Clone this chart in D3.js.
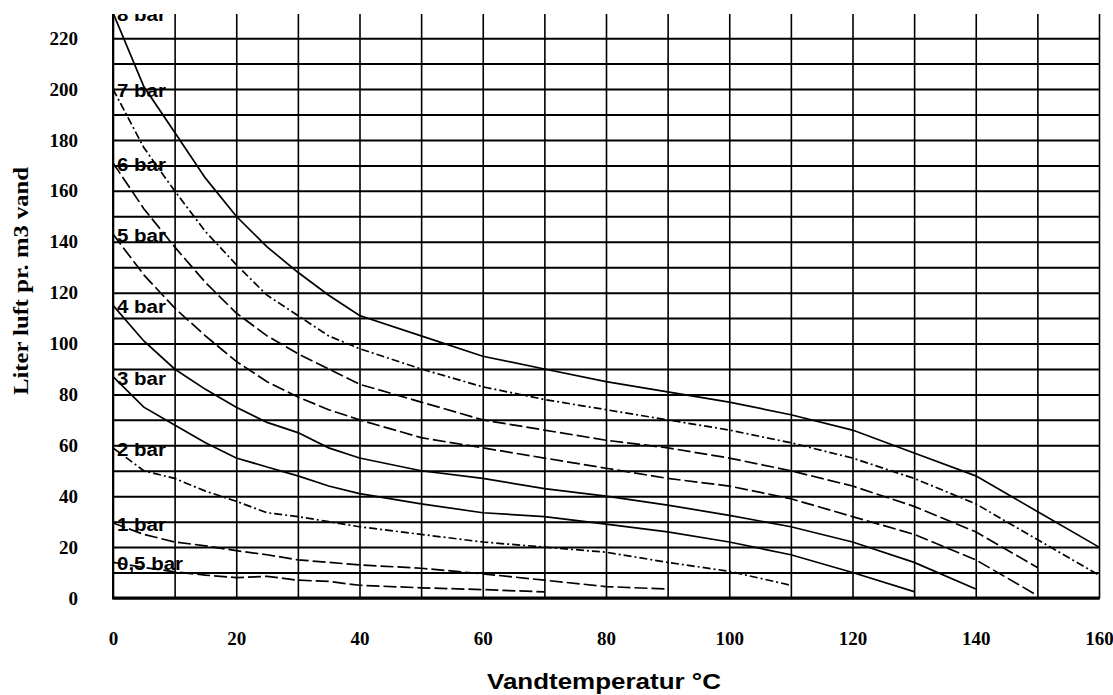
<!DOCTYPE html>
<html>
<head>
<meta charset="utf-8">
<script src="https://cdn.jsdelivr.net/npm/d3@7"></script>
<style>
  body { margin: 0; background: #fff; }
  .serif { font-family: "Liberation Serif", "Times New Roman", serif; font-weight: bold; }
  .sans { font-family: "Liberation Sans", Arial, sans-serif; font-weight: bold; }
</style>
</head>
<body>
<script>
// water temperature (°C) at which the curves were read
var temps = [0, 5, 10, 15, 20, 25, 30, 35, 40, 50, 60, 70, 80, 90, 100, 110, 120, 130, 140, 150, 160];

// litres of air per m3 water, one array per pressure (ends where the curve ends)
var bar8  = [230, 201, 183, 165, 150, 138, 128, 119, 111, 103, 95, 90, 85, 81, 77, 72, 66, 57, 48, 34, 20];
var bar7  = [200, 177, 160, 144, 131, 119, 111, 103, 98, 90, 83, 78, 74, 70, 66, 61, 55, 47, 37, 23, 9];
var bar6  = [171, 153, 138, 124, 112, 103, 96, 90, 84, 77, 70, 66, 62, 59, 55, 50, 44, 36, 26, 12];
var bar5  = [143, 127, 114, 103, 93, 85, 79, 74, 70, 63, 59, 55, 51, 47, 44, 39, 32, 25, 15, 1];
var bar4  = [115, 101, 90, 82, 75, 69, 65, 59, 55, 50, 47, 43, 40, 36.5, 32.5, 28, 22, 14, 3.5];
var bar3  = [87, 75, 68, 61, 55, 51.5, 48, 44, 41, 37, 33.5, 32, 29, 26, 22, 17, 10, 2.5];
var bar2  = [59, 50, 47, 42, 38, 33.5, 32, 30, 28, 25, 22, 20, 18, 14, 10.5, 5];
var bar1  = [29.5, 25, 22, 20.5, 18.6, 17, 15, 14, 13, 11.7, 9.5, 7, 4.5, 3.5];
var bar05 = [14, 12, 10.3, 9, 8, 8.5, 7, 6.5, 5, 4, 3.3, 2.4];

var seriesNames = ["8 bar", "7 bar", "6 bar", "5 bar", "4 bar", "3 bar", "2 bar", "1 bar", "0,5 bar"];
var seriesValues = [bar8, bar7, bar6, bar5, bar4, bar3, bar2, bar1, bar05];

var xTicks = d3.range(0, 161, 20);
var yTicks = d3.range(0, 221, 20);

// line styles
var dashes = {
  "8 bar": null, "7 bar": "8,3,2,3", "6 bar": "13,4", "5 bar": "13,4",
  "4 bar": null, "3 bar": null, "2 bar": "8,3,2,3", "1 bar": "13,4", "0,5 bar": "13,4"
};

var width = 1113,
    height = 695;

var x = d3.scaleLinear().domain([0, 160]).range([113, 1099]);
var y = d3.scaleLinear().domain([0, 229.5]).range([598, 14]);

var svg = d3.select("body").append("svg")
    .attr("width", width)
    .attr("height", height);

svg.append("clipPath")
    .attr("id", "plot")
  .append("rect")
    .attr("x", x(0))
    .attr("y", y(229.5))
    .attr("width", x(160) - x(0))
    .attr("height", y(0) - y(229.5));

// grid
svg.append("g")
    .attr("transform", "translate(" + x(0) + ",0)")
    .call(d3.axisLeft(y).tickValues(d3.range(0, 221, 10)).tickSize(-(x(160) - x(0))).tickFormat(""))
    .call(function(g) { g.select(".domain").remove(); })
    .selectAll("line").attr("stroke", "#000").attr("stroke-width", 2);

svg.append("g")
    .attr("transform", "translate(0," + y(0) + ")")
    .call(d3.axisBottom(x).tickValues(d3.range(0, 161, 10)).tickSize(-(y(0) - y(229.5))).tickFormat(""))
    .call(function(g) { g.select(".domain").remove(); })
    .selectAll("line").attr("stroke", "#000").attr("stroke-width", 1.6);

svg.append("line")
    .attr("x1", x(0) - 1).attr("x2", x(160) + 1)
    .attr("y1", y(0)).attr("y2", y(0))
    .attr("stroke", "#000").attr("stroke-width", 3);

svg.append("line")
    .attr("x1", x(0)).attr("x2", x(0))
    .attr("y1", y(229.5)).attr("y2", y(0))
    .attr("stroke", "#000").attr("stroke-width", 2);

// tick labels
var yAxis = svg.append("g")
    .attr("transform", "translate(" + x(0) + ",0)")
    .call(d3.axisLeft(y).tickValues(yTicks).tickSize(0).tickPadding(35));
yAxis.select(".domain").remove();
yAxis.selectAll("text").attr("class", "serif").style("font-size", "19px").attr("fill", "#000");

var xAxis = svg.append("g")
    .attr("transform", "translate(0," + y(0) + ")")
    .call(d3.axisBottom(x).tickValues(xTicks).tickSize(0).tickPadding(34));
xAxis.select(".domain").remove();
xAxis.selectAll("text").attr("class", "serif").style("font-size", "19px").attr("fill", "#000");

function stretch(sel, k) {
  sel.each(function() {
    var w = this.getComputedTextLength();
    this.setAttribute("textLength", w * k);
    this.setAttribute("lengthAdjust", "spacingAndGlyphs");
  });
}

// curves
var line = d3.line()
    .x(function(d) { return x(d[0]); })
    .y(function(d) { return y(d[1]); });

var plot = svg.append("g").attr("clip-path", "url(#plot)");

seriesNames.forEach(function(name, i) {
  var pts = seriesValues[i].map(function(v, j) { return [temps[j], v]; });
  plot.append("path")
      .attr("d", line(pts))
      .attr("fill", "none")
      .attr("stroke", "#000")
      .attr("stroke-width", 1.7)
      .attr("stroke-dasharray", dashes[name]);

  plot.append("text")
      .attr("class", "sans")
      .attr("x", x(0) + 4)
      .attr("y", y(seriesValues[i][0]) + 8)
      .style("font-size", "17.5px")
      .text(name)
      .call(stretch, 1.17);
});

// axis titles
svg.append("text")
    .attr("class", "serif")
    .attr("transform", "translate(28,281) rotate(-90)")
    .attr("text-anchor", "middle")
    .style("font-size", "22px")
    .text("Liter luft pr. m3 vand")
    .call(stretch, 1.12);

svg.append("text")
    .attr("class", "sans")
    .attr("x", 604)
    .attr("y", 689)
    .attr("text-anchor", "middle")
    .style("font-size", "22px")
    .text("Vandtemperatur °C")
    .call(stretch, 1.18);
</script>
</body>
</html>
